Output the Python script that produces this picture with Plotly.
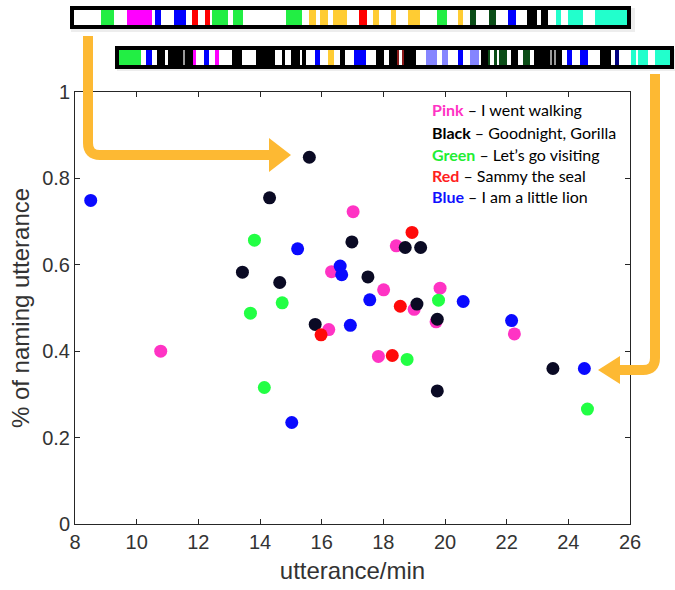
import plotly.graph_objects as go

W, H = 675, 590

# ---------------- data ----------------
pink_x = [10.78, 17.02, 18.42, 16.32, 18.01, 19.84, 19.00, 19.71, 16.23, 17.84, 22.25]
pink_y = [0.400, 0.723, 0.644, 0.584, 0.542, 0.546, 0.497, 0.468, 0.450, 0.388, 0.440]

black_x = [15.60, 14.31, 13.43, 14.64, 15.79, 16.98, 18.71, 19.21, 17.50, 19.09, 19.75, 19.75, 23.50]
black_y = [0.849, 0.755, 0.583, 0.559, 0.462, 0.653, 0.640, 0.640, 0.572, 0.509, 0.474, 0.308, 0.360]

green_x = [13.82, 14.72, 13.69, 14.14, 19.79, 18.77, 24.62]
green_y = [0.657, 0.512, 0.488, 0.316, 0.518, 0.381, 0.266]

red_x = [18.93, 18.55, 15.98, 18.29]
red_y = [0.675, 0.504, 0.438, 0.390]

blue_x = [8.51, 15.22, 16.60, 16.65, 17.56, 20.59, 16.93, 15.03, 22.16, 24.52]
blue_y = [0.749, 0.637, 0.597, 0.577, 0.519, 0.515, 0.460, 0.235, 0.471, 0.360]

x_ticks = [8, 10, 12, 14, 16, 18, 20, 22, 24, 26]
y_ticks = [0, 0.2, 0.4, 0.6, 0.8, 1]

legend_words = ["Pink", "Black", "Green", "Red", "Blue"]
legend_books = ["I went walking", "Goodnight, Gorilla", "Let\u2019s go visiting",
                "Sammy the seal", "I am a little lion"]

# timeline strips: (colour code, duration)
strip1_codes = ["W","G","W","M","W","B","W","B","W","R","W","R","W","G","W","G","W","G","W","Y",
                "W","Y","W","Y","W","R","W","Y","W","Y","W","Y","W","G","W","Y","W","D","W","D",
                "W","B","W","K","W","K","W","T","W","T","W","T"]
strip1_lens = [27,13,13,25,3,6,13,12,6,6,7,5,2,16,5,10,43,16,7,7,
               4,8,5,14,13,8,6,6,12,5,12,12,17,10,11,5,7,6,13,7,
               12,8,11,10,4,7,8,5,7,15,12,32]

strip2_codes = ["G","W","B","W","K","W","K","S","K","M","W","B","W","M","W","K","W","K","W","K",
                "W","K","W","K","W","B","W","Y","W","K","W","B","W","K","W","K","Q","W","Q","K",
                "W","L","W","L","W","B","W","L","W","K","D","W","D","W","D","W","K","W","D","W",
                "K","S","K","S","K","W","B","W","B","W","K","W","N","W","T","W","T","W","T"]
strip2_lens = [22,5,6,5,8,3,16,1,8,3,8,5,6,4,13,10,14,19,7,3,
               6,10,1,5,9,5,8,6,6,5,9,12,10,8,5,8,2,3,2,12,
               10,11,5,6,10,5,7,9,2,7,2,4,3,2,8,4,7,5,7,4,
               17,2,2,1,6,5,5,8,8,12,11,4,4,12,5,2,10,7,16]

palette = {"W": "#ffffff", "G": "#22ee44", "M": "#ff00ff", "B": "#0000ff", "R": "#ff0000",
           "Y": "#ffcc33", "D": "#0b4d17", "K": "#000000", "T": "#22ffcc", "S": "#9a9a9a",
           "Q": "#8b1a1a", "L": "#8585ff", "N": "#000080"}

# decorative arrows (pixel way-points) and style
arrow1_pts = [(88, 36), (88, 155), (270, 155)]
arrow1_head = [(269, 138), (291, 155), (269, 172)]
arrow2_pts = [(655, 74), (655, 370), (620, 370)]
arrow2_head = [(620, 356), (598, 370), (620, 384)]
ORANGE = "#fdb933"

# ---------------- helpers ----------------
def fx(x):
    return x / W

def fy(y):
    return 1 - y / H

def rounded_path(pts, r=10):
    (x0, y0), (x1, y1), (x2, y2) = pts
    def sgn(v):
        return (v > 0) - (v < 0)
    dx1, dy1 = sgn(x1 - x0), sgn(y1 - y0)
    dx2, dy2 = sgn(x2 - x1), sgn(y2 - y1)
    a = (x1 - dx1 * r, y1 - dy1 * r)
    b = (x1 + dx2 * r, y1 + dy2 * r)
    return (f"M {fx(x0)} {fy(y0)} L {fx(a[0])} {fy(a[1])} "
            f"Q {fx(x1)} {fy(y1)} {fx(b[0])} {fy(b[1])} L {fx(x2)} {fy(y2)}")

def tri_path(pts):
    return "M " + " L ".join(f"{fx(x)} {fy(y)}" for x, y in pts) + " Z"

def cumstart(lens):
    out, s = [], 0
    for l in lens:
        out.append(s)
        s += l
    return out

# ---------------- figure ----------------
fig = go.Figure()

series = [
    (pink_x, pink_y, "#ff33c4"),
    (green_x, green_y, "#22ff44"),
    (black_x, black_y, "#0a0a24"),
    (red_x, red_y, "#ff0a0a"),
    (blue_x, blue_y, "#0a0aff"),
]
for xs, ys, c in series:
    fig.add_trace(go.Scatter(x=xs, y=ys, mode="markers",
                             marker=dict(size=13, color=c, line=dict(width=0)),
                             showlegend=False, xaxis="x", yaxis="y"))

# subtle drop shadows behind the strips
for x0, x1, y0, y1 in [(71, 635, 8, 32), (117, 677, 49, 71)]:
    fig.add_shape(type="rect", xref="paper", yref="paper", x0=fx(x0), x1=fx(x1), y0=fy(y1), y1=fy(y0),
                  line=dict(width=0), fillcolor="rgba(0,0,0,0.07)", layer="below")

# timeline strips as horizontal bars
for codes, lens, ax in [(strip1_codes, strip1_lens, "2"), (strip2_codes, strip2_lens, "3")]:
    fig.add_trace(go.Bar(orientation="h", x=lens, base=cumstart(lens), y=[0] * len(lens),
                         width=1, marker=dict(color=[palette[c] for c in codes], line=dict(width=0)),
                         showlegend=False, xaxis="x" + ax, yaxis="y" + ax, hoverinfo="skip"))

FONT = "Liberation Sans, Arial, sans-serif"
axis_common = dict(showgrid=False, zeroline=False, showline=True, linecolor="#262626",
                   linewidth=1, ticks="inside", ticklen=5, tickcolor="#262626",
                   mirror="ticks", automargin=False,
                   tickfont=dict(family=FONT, size=20, color="#333333"))

strip_axis = dict(showgrid=False, zeroline=False, showticklabels=False, ticks="",
                  showline=True, linewidth=4, linecolor="#000000", mirror=True, automargin=False,
                  fixedrange=True)

fig.update_layout(
    width=W, height=H, template="none",
    margin=dict(l=0, r=0, t=0, b=0, pad=0),
    paper_bgcolor="white", plot_bgcolor="rgba(0,0,0,0)",
    bargap=0,
    xaxis=dict(domain=[fx(75), fx(630)], range=[8, 26], tickvals=x_ticks,
               title=dict(text="utterance/min", standoff=10,
                          font=dict(family=FONT, size=24, color="#333333")),
               **axis_common),
    yaxis=dict(domain=[fy(524), fy(92)], range=[0, 1], tickvals=y_ticks,
               title=dict(text="% of naming utterance", standoff=5,
                          font=dict(family=FONT, size=24, color="#333333")),
               **axis_common),
    xaxis2=dict(domain=[fx(74), fx(627)], range=[0, sum(strip1_lens)], anchor="y2", **strip_axis),
    yaxis2=dict(domain=[fy(25), fy(9.5)], range=[-0.5, 0.5], anchor="x2", **strip_axis),
    xaxis3=dict(domain=[fx(118.5), fx(670)], range=[0, sum(strip2_lens)], anchor="y3", **strip_axis),
    yaxis3=dict(domain=[fy(65), fy(50)], range=[-0.5, 0.5], anchor="x3", **strip_axis),
)

# arrows
for pts, head in [(arrow1_pts, arrow1_head), (arrow2_pts, arrow2_head)]:
    fig.add_shape(type="path", xref="paper", yref="paper", path=rounded_path(pts, 12),
                  line=dict(color=ORANGE, width=10), fillcolor="rgba(0,0,0,0)", layer="above")
    fig.add_shape(type="path", xref="paper", yref="paper", path=tri_path(head),
                  line=dict(color=ORANGE, width=0), fillcolor=ORANGE, layer="above")

# legend text
word_colors = ["#ff33c4", "#000000", "#22ee33", "#ff2020", "#1010ff"]
legend_y = [110, 132, 154, 176, 197]
for word, book, c, yy in zip(legend_words, legend_books, word_colors, legend_y):
    fig.add_annotation(xref="paper", yref="paper", x=fx(430), y=fy(yy),
                       xanchor="left", yanchor="middle", showarrow=False,
                       text=f"<b><span style='color:{c}'>{word}</span></b> \u2013 {book}",
                       font=dict(family="Lato, Open Sans, sans-serif", size=16, color="#000000"))

fig.write_html("out.html")
